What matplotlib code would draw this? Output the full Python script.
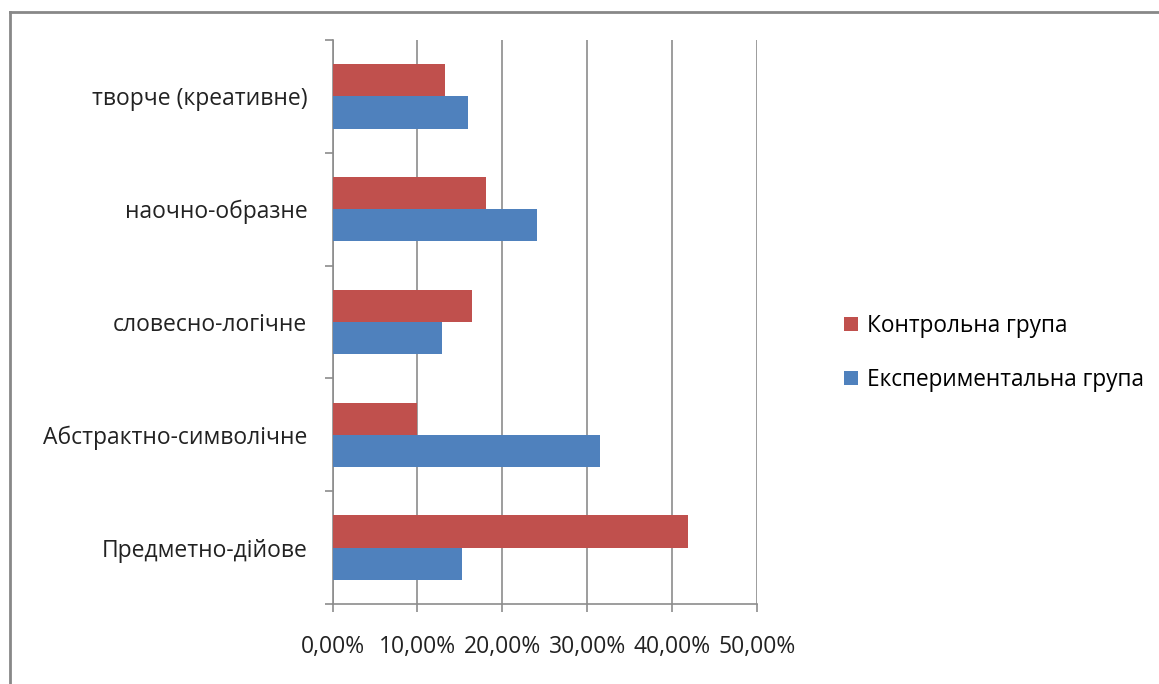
import numpy as np
import matplotlib.pyplot as plt
from matplotlib.ticker import FuncFormatter, MultipleLocator
from matplotlib.lines import Line2D

# Data (bottom to top)
categories = ['Предметно-дійове', 'Абстрактно-символічне', 'словесно-логічне',
              'наочно-образне', 'творче (креативне)']
control = [41.9, 10.0, 16.4, 18.1, 13.25]
experimental = [15.2, 31.5, 12.9, 24.1, 16.0]
series_names = ['Контрольна група', 'Експериментальна група']

red = '#C0504D'
blue = '#4F81BD'
grey = '#8C8C8C'

plt.rcParams['font.family'] = ['Open Sans', 'DejaVu Sans']

fig = plt.figure(figsize=(11.59, 6.84), dpi=100)
ax = fig.add_axes([332.5 / 1159, 1 - 604 / 684, (757 - 332.5) / 1159, (604 - 40) / 684])

y = np.arange(len(categories))
h = 0.285
ax.barh(y + h / 2, control, height=h, color=red, label=series_names[0], zorder=3)
ax.barh(y - h / 2, experimental, height=h, color=blue, label=series_names[1], zorder=3)

ax.set_xlim(0, 50)
ax.set_ylim(-0.5, len(categories) - 0.5)
ax.xaxis.set_major_locator(MultipleLocator(10))
ax.xaxis.set_major_formatter(FuncFormatter(lambda v, p: f'{v:.2f}%'.replace('.', ',')))
ax.grid(axis='x', color=grey, linewidth=1.2, zorder=0)

ax.set_yticks(y)
ax.set_yticklabels(categories)
ax.set_yticks(np.arange(-0.5, len(categories)), minor=True)
ax.tick_params(axis='y', which='major', length=0, pad=18, labelsize=16.5, colors='#222222')
ax.tick_params(axis='y', which='minor', length=6, width=1.2, color=grey)
ax.tick_params(axis='x', length=6, width=1.2, color=grey, pad=16, labelsize=16.5,
               labelcolor='#222222')

for s in ['top', 'right']:
    ax.spines[s].set_visible(False)
for s in ['left', 'bottom']:
    ax.spines[s].set_color(grey)
    ax.spines[s].set_linewidth(1.2)

ax.legend(loc='center left', bbox_to_anchor=(824 / 1159, 1 - 353 / 684),
          bbox_transform=fig.transFigure, frameon=False, fontsize=16.3,
          handlelength=0.6, handleheight=0.6, handletextpad=0.4, labelspacing=1.3)

# outer chart border (left and top visible)
fig.add_artist(Line2D([10 / 1159, 10 / 1159], [0, 1 - 12 / 684], transform=fig.transFigure,
                      color='#888888', linewidth=2))
fig.add_artist(Line2D([10 / 1159, 1], [1 - 12 / 684, 1 - 12 / 684], transform=fig.transFigure,
                      color='#888888', linewidth=2))

fig.savefig('out.png', dpi=100)
